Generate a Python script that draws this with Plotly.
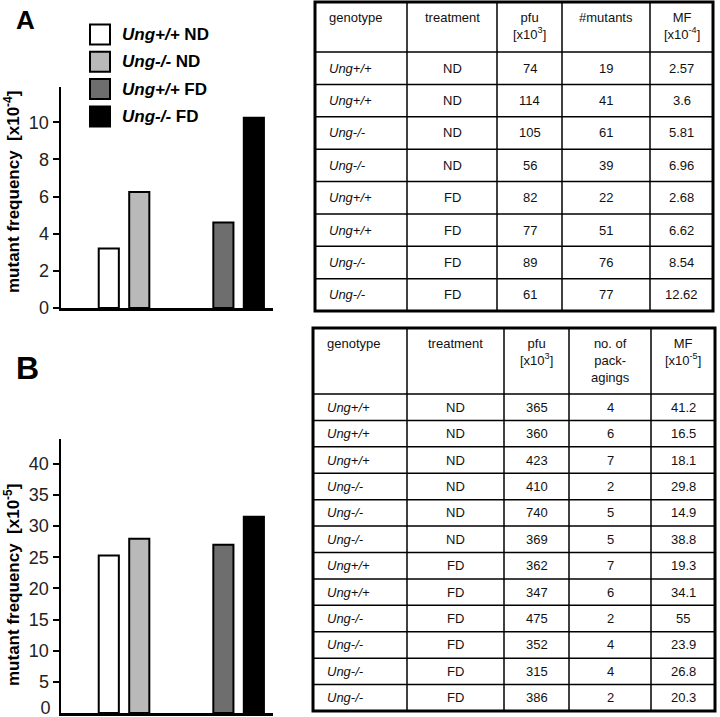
import plotly.graph_objects as go

W, H = 720, 717
FONT = "Arial, Liberation Sans, sans-serif"

# ---------------- data ----------------
treatments = ["ND", "FD"]
legend_labels = ["<i>Ung+/+</i> ND", "<i>Ung-/-</i> ND", "<i>Ung+/+</i> FD", "<i>Ung-/-</i> FD"]
legend_colors = ["#ffffff", "#b9b9b9", "#6e6e6e", "#000000"]

# panel A mutant frequency [x10^-4]
mfA_wt = [3.2, 4.6]     # Ung+/+ : ND, FD
mfA_ko = [6.25, 10.25]  # Ung-/- : ND, FD
# panel B mutant frequency [x10^-5]
mfB_wt = [25.3, 27.0]
mfB_ko = [28.0, 31.5]

yticksA = [0, 2, 4, 6, 8, 10]
yticksB = [5, 10, 15, 20, 25, 30, 35, 40]
ytickB_zero_label = "0"

# table A
tA_header = ["genotype", "treatment", "pfu<br>[x10<sup>3</sup>]", "#mutants", "MF<br>[x10<sup>-4</sup>]"]
tA_genotype = ["Ung+/+", "Ung+/+", "Ung-/-", "Ung-/-", "Ung+/+", "Ung+/+", "Ung-/-", "Ung-/-"]
tA_treatment = ["ND", "ND", "ND", "ND", "FD", "FD", "FD", "FD"]
tA_pfu = [74, 114, 105, 56, 82, 77, 89, 61]
tA_mutants = [19, 41, 61, 39, 22, 51, 76, 77]
tA_mf = ["2.57", "3.6", "5.81", "6.96", "2.68", "6.62", "8.54", "12.62"]

# table B
tB_header = ["genotype", "treatment", "pfu<br>[x10<sup>3</sup>]", "no. of<br>pack-<br>agings", "MF<br>[x10<sup>-5</sup>]"]
tB_genotype = ["Ung+/+", "Ung+/+", "Ung+/+", "Ung-/-", "Ung-/-", "Ung-/-",
               "Ung+/+", "Ung+/+", "Ung-/-", "Ung-/-", "Ung-/-", "Ung-/-"]
tB_treatment = ["ND", "ND", "ND", "ND", "ND", "ND", "FD", "FD", "FD", "FD", "FD", "FD"]
tB_pfu = [365, 360, 423, 410, 740, 369, 362, 347, 475, 352, 315, 386]
tB_pack = [4, 6, 7, 2, 5, 5, 7, 6, 2, 4, 4, 2]
tB_mf = ["41.2", "16.5", "18.1", "29.8", "14.9", "38.8", "19.3", "34.1", "55", "23.9", "26.8", "20.3"]

# ---------------- helpers ----------------
def px_x(x):
    return x / W

def px_y(y):
    return 1 - y / H

fig = go.Figure()

def add_bars(xa, ya, wt, ko):
    fig.add_trace(go.Bar(x=treatments, y=wt, xaxis=xa, yaxis=ya, name="Ung+/+",
                         marker=dict(color=[legend_colors[0], legend_colors[2]],
                                     line=dict(color="black", width=2)),
                         showlegend=False))
    fig.add_trace(go.Bar(x=treatments, y=ko, xaxis=xa, yaxis=ya, name="Ung-/-",
                         marker=dict(color=[legend_colors[1], legend_colors[3]],
                                     line=dict(color="black", width=2)),
                         showlegend=False))

add_bars("x", "y", mfA_wt, mfA_ko)
add_bars("x2", "y2", mfB_wt, mfB_ko)

xdom = [px_x(61), px_x(273)]
xax = dict(domain=xdom, range=[-0.55, 1.30], showline=True, linecolor="black", linewidth=2.5,
           showticklabels=False, ticks="", showgrid=False, zeroline=False, fixedrange=True)
def yax(dom, rng, ticks, labels=None):
    return dict(domain=dom, range=rng, showline=True, linecolor="black", linewidth=2.5,
                ticks="outside", ticklen=6, tickwidth=2, tickcolor="black",
                tickvals=ticks, ticktext=labels or [str(t) for t in ticks],
                tickfont=dict(family=FONT, size=18, color="#222"),
                ticklabeloverflow="allow",
                showgrid=False, zeroline=False, automargin=False)

domB = [px_y(713), px_y(439)]
# overlay axis carrying only the "0" label, nudged up so it stays inside the page
y3 = yax(domB, [0, 44], [0.8], [ytickB_zero_label])
y3.update(showline=False, tickcolor="rgba(0,0,0,0)", overlaying="y2", anchor="x2", side="left")

fig.update_layout(
    xaxis=dict(xax, anchor="y"),
    yaxis=dict(yax([px_y(308), px_y(87)], [0, 11.9], yticksA), anchor="x"),
    xaxis2=dict(xax, anchor="y2"),
    yaxis2=dict(yax(domB, [0, 44], yticksB), anchor="x2"),
    yaxis3=y3,
)
fig.add_trace(go.Scatter(x=[treatments[0]], y=[0], xaxis="x2", yaxis="y3", mode="markers",
                         marker=dict(size=1, opacity=0), showlegend=False))

# ---------------- tables (lines + cell texts) ----------------
TFONT = dict(family=FONT, size=13, color="#111")

def add_table(header, cols, col_x, yt, header_h, yb):
    n = len(cols[0])
    row_h = (yb - yt - header_h) / n
    row_y = [yt + header_h + i * row_h for i in range(n + 1)]
    for x in col_x[1:-1]:
        fig.add_shape(type="line", xref="paper", yref="paper",
                      x0=px_x(x), x1=px_x(x), y0=px_y(yb), y1=px_y(yt),
                      line=dict(color="black", width=1.5))
    for y in row_y[:-1]:
        fig.add_shape(type="line", xref="paper", yref="paper",
                      x0=px_x(col_x[0]), x1=px_x(col_x[-1]), y0=px_y(y), y1=px_y(y),
                      line=dict(color="black", width=1.5))
    fig.add_shape(type="rect", xref="paper", yref="paper",
                  x0=px_x(col_x[0]), x1=px_x(col_x[-1]), y0=px_y(yb), y1=px_y(yt),
                  line=dict(color="black", width=3))
    for j, h in enumerate(header):
        left = j == 0
        xc = col_x[j] + 12 if left else (col_x[j] + col_x[j + 1]) / 2
        fig.add_annotation(x=px_x(xc), y=px_y(yt + 6), xref="paper", yref="paper",
                           text=h, showarrow=False, xanchor="left" if left else "center",
                           yanchor="top", align="center", font=TFONT)
    for j, col in enumerate(cols):
        left = j == 0
        xc = col_x[j] + 12 if left else (col_x[j] + col_x[j + 1]) / 2
        for i, v in enumerate(col):
            yc = (row_y[i] + row_y[i + 1]) / 2
            txt = "<i>%s</i>" % v if left else str(v)
            fig.add_annotation(x=px_x(xc), y=px_y(yc), xref="paper", yref="paper",
                               text=txt, showarrow=False, xanchor="left" if left else "center",
                               yanchor="middle", font=TFONT)

add_table(tA_header, [tA_genotype, tA_treatment, tA_pfu, tA_mutants, tA_mf],
          [315, 407, 497, 562, 650, 713], 2, 50, 311)
add_table(tB_header, [tB_genotype, tB_treatment, tB_pfu, tB_pack, tB_mf],
          [313, 407, 504, 569, 651, 715], 328, 66, 711)

# ---------------- legend, titles ----------------
for i, (lab, col) in enumerate(zip(legend_labels, legend_colors)):
    cy = 34.5 + 27.3 * i
    fig.add_shape(type="rect", xref="paper", yref="paper",
                  x0=px_x(90), x1=px_x(110), y0=px_y(cy + 10), y1=px_y(cy - 10),
                  fillcolor=col, line=dict(color="black", width=2))
    fig.add_annotation(x=px_x(120), y=px_y(cy), xref="paper", yref="paper",
                       text="<b>%s</b>" % lab, showarrow=False, xanchor="left", yanchor="middle",
                       font=dict(family=FONT, size=17, color="black"))

for txt, cy in [("mutant frequency  [x10<sup>-4</sup>]", 192), ("mutant frequency  [x10<sup>-5</sup>]", 585)]:
    fig.add_annotation(x=px_x(12), y=px_y(cy), xref="paper", yref="paper",
                       text="<b>%s</b>" % txt, showarrow=False, textangle=-90,
                       xanchor="center", yanchor="middle",
                       font=dict(family=FONT, size=17, color="black"))

fig.add_annotation(x=px_x(26), y=px_y(20), xref="paper", yref="paper", text="<b>A</b>",
                   showarrow=False, xanchor="center", yanchor="middle",
                   font=dict(family=FONT, size=26, color="black"))
fig.add_annotation(x=px_x(27), y=px_y(368), xref="paper", yref="paper", text="<b>B</b>",
                   showarrow=False, xanchor="center", yanchor="middle",
                   font=dict(family=FONT, size=32, color="black"))

fig.update_layout(width=W, height=H, margin=dict(l=0, r=0, t=0, b=0),
                  paper_bgcolor="white", plot_bgcolor="white",
                  barmode="group", bargap=0.468, bargroupgap=0.34,
                  font=dict(family=FONT), hovermode=False)

fig.write_html("out.html", config={"displayModeBar": False, "staticPlot": True},
               post_script="document.body.style.margin='0px';")
